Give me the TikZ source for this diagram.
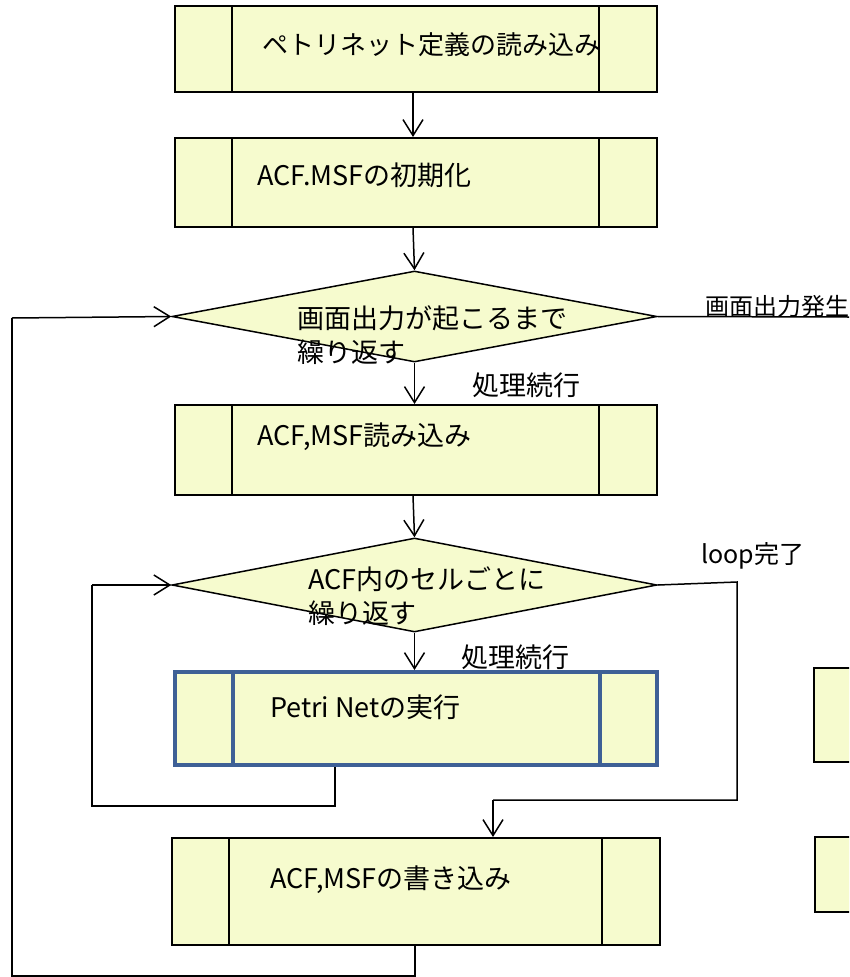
\documentclass[tikz,border=0pt]{standalone}
\usepackage{fontspec}
\setmainfont{Noto Sans CJK JP}
\usetikzlibrary{arrows.meta,shapes.geometric,calc}
\definecolor{boxfill}{RGB}{246,251,206}
\definecolor{boxblue}{RGB}{62,96,150}
\tikzset{
  proc/.style={draw, line width=2pt, fill=boxfill, minimum width=482pt, inner sep=0pt,
    path picture={
      \draw[line width=2pt] ([xshift=57pt]path picture bounding box.north west) -- ([xshift=57pt]path picture bounding box.south west);
      \draw[line width=2pt] ([xshift=-58pt]path picture bounding box.north east) -- ([xshift=-58pt]path picture bounding box.south east);
    }},
  bluebox/.style={line width=4pt, draw=boxblue,
    path picture={
      \draw[line width=4pt, boxblue] ([xshift=58pt]path picture bounding box.north west) -- ([xshift=58pt]path picture bounding box.south west);
      \draw[line width=4pt, boxblue] ([xshift=-57pt]path picture bounding box.north east) -- ([xshift=-57pt]path picture bounding box.south east);
    }},
  diam/.style={draw, line width=1.5pt, fill=boxfill, shape=diamond, inner sep=0pt,
    minimum width=485pt, aspect=5.3},
  txt/.style={anchor=west, inner sep=0pt, align=left, font=\fontsize{27}{34}\selectfont},
  lbl/.style={anchor=west, inner sep=0pt, font=\fontsize{25}{28}\selectfont},
  conn/.style={line width=1.5pt},
  arr/.style={line width=1.5pt, -{Straight Barb[length=16pt,width=20pt,line width=1.5pt]}},
  side/.style={draw, line width=2pt, fill=boxfill, inner sep=0pt}
}
\begin{document}
\begin{tikzpicture}[x=1pt,y=-1pt]
\clip (0,0) rectangle (849,977);
\fill[white] (0,0) rectangle (849,977);

% process boxes
\node[proc, minimum height=86pt] (b1) at (416,49) {};
\node[proc, minimum height=89pt] (b2) at (416,182.5) {};
\node[proc, minimum height=90pt] (b3) at (416,450) {};
\node[proc, bluebox, minimum height=93pt] (b4) at (416,718.5) {};
\node[proc, minimum height=107pt, minimum width=488pt] (b5) at (416,891.5) {};

% decisions
\node[diam, minimum height=91pt] (d1) at (414.5,316.5) {};
\node[diam, minimum height=94pt] (d2) at (414.5,585) {};

% side boxes (cut off)
\node[side, minimum width=60pt, minimum height=94pt] (s1) at (844,715) {};
\node[side, minimum width=60pt, minimum height=75pt] (s2) at (845,874.5) {};

% texts
\node[txt, font=\fontsize{26}{34}\selectfont] (t1) at (262,45) {ペトリネット定義の読み込み};
\node[txt] (t2) at (257,175) {ACF.MSFの初期化};
\node[txt] (t3) at (297,335) {画面出力が起こるまで\\繰り返す};
\node[txt] (t4) at (257,437) {ACF,MSF読み込み};
\node[txt] (t5) at (308,596) {ACF内のセルごとに\\繰り返す};
\node[txt] (t6) at (270,707) {Petri Netの実行};
\node[txt] (t7) at (270,880) {ACF,MSFの書き込み};
\node[lbl, font=\fontsize{27}{30}\selectfont] (p1) at (472,385) {処理続行};
\node[lbl, font=\fontsize{27}{30}\selectfont] (p2) at (461,657) {処理続行};
\node[lbl, font=\fontsize{24}{26}\selectfont, anchor=south west] (e1) at (705,318) {画面出力発生};
\node[lbl] (e2) at (701,556) {loop完了};

% straight arrows
\draw[arr] ([xshift=-3pt]b1.south) -- ([xshift=-3pt]b2.north);
\draw[arr] ([xshift=-3pt]b2.south) -- (d1.north);
\draw[arr] (d1.south) -- (d1.south |- b3.north);
\draw[arr] ([xshift=-3pt]b3.south) -- (d2.north);
\draw[arr] (d2.south) -- (d2.south |- b4.north);

% exit of first loop
\coordinate (x1) at (849,317);
\draw[conn] (d1.east) -- (x1);

% outer loop
\coordinate (o1) at (415,976);
\coordinate (o2) at (12,976);
\coordinate (o3) at (12,318);
\draw[conn] (b5.south -| o1) -- (o1) -- (o2) -- (o3);
\draw[arr] (o3) -- (d1.west);

% inner loop
\coordinate (i1) at (335,806);
\coordinate (i2) at (92,806);
\coordinate (i3) at (92,585);
\draw[conn] (b4.south -| i1) -- (i1) -- (i2) -- (i3);
\draw[arr] (i3) -- (d2.west);

% exit of inner loop
\coordinate (k1) at (737,582);
\coordinate (k2) at (737,800);
\coordinate (k3) at (493,800);
\draw[conn] (d2.east) -- (k1) -- (k2) -- (k3);
\draw[arr] (k3) -- (k3 |- b5.north);
\end{tikzpicture}
\end{document}
